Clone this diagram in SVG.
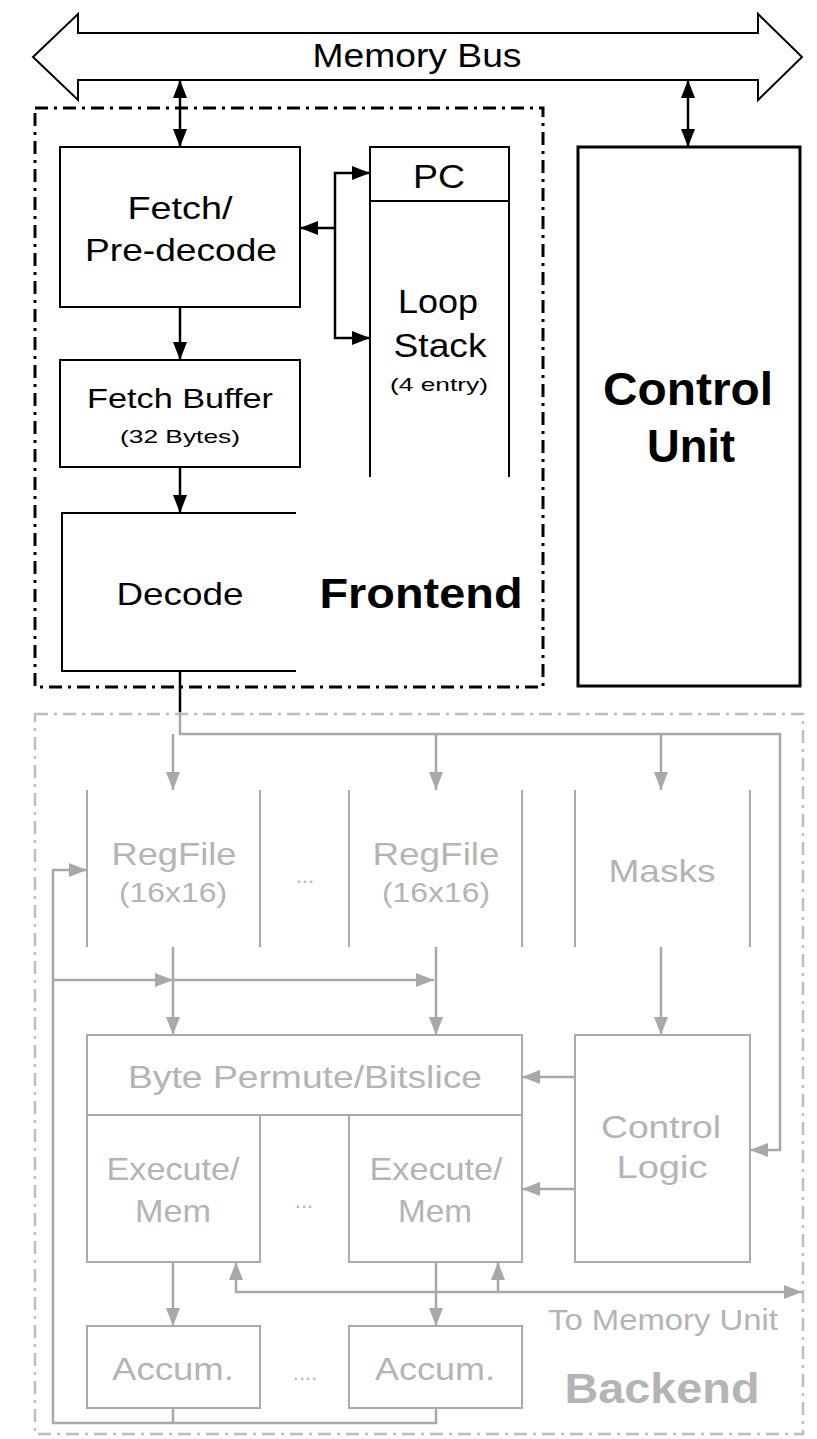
<svg xmlns="http://www.w3.org/2000/svg" width="817" height="1439" viewBox="0 0 817 1439">
<style>
.t{font-family:"Liberation Sans",Arial,sans-serif;text-anchor:middle}
.k{fill:#000}
.g{fill:#b4b4b4}
.box{fill:none;stroke:#000;stroke-width:2}
.gbox{fill:none;stroke:#ababab;stroke-width:2}
.bl{fill:none;stroke:#000;stroke-width:2.5}
.gl{fill:none;stroke:#a8a8a8;stroke-width:2.5}
</style>
<defs>
<marker id="ab" markerUnits="userSpaceOnUse" markerWidth="18" markerHeight="14" refX="18" refY="7" orient="auto-start-reverse"><path d="M0,0 L18,7 L0,14 z" fill="#000"/></marker>
<marker id="ag" markerUnits="userSpaceOnUse" markerWidth="18" markerHeight="14" refX="18" refY="7" orient="auto-start-reverse"><path d="M0,0 L18,7 L0,14 z" fill="#a8a8a8"/></marker>
</defs>
<rect width="817" height="1439" fill="#fff"/>

<g id="memory-bus">
<polygon points="33,57 78,14 78,33 758,33 758,14 802,57 758,100 758,80 78,80 78,100" fill="#fff" stroke="#000" stroke-width="2"/>
<text class="t k" x="417" y="67" font-size="33" textLength="209" lengthAdjust="spacingAndGlyphs">Memory Bus</text>
</g>

<g id="frontend">
<rect x="35" y="108" width="508" height="579" fill="none" stroke="#000" stroke-width="3" stroke-dasharray="13,6,3,6"/>
<text class="t k" x="421" y="608" font-size="42" font-weight="bold" textLength="203" lengthAdjust="spacingAndGlyphs">Frontend</text>
</g>

<g id="backend">
<rect x="35" y="714" width="768" height="720" fill="none" stroke="#bdbdbd" stroke-width="2.5" stroke-dasharray="13,6,3,6"/>
<text class="t g" x="662" y="1403" font-size="42" font-weight="bold" textLength="195" lengthAdjust="spacingAndGlyphs">Backend</text>
</g>

<g id="fetch">
<rect class="box" x="60" y="147" width="240" height="160"/>
<text class="t k" x="180" y="219" font-size="32" textLength="105" lengthAdjust="spacingAndGlyphs">Fetch/</text>
<text class="t k" x="181" y="261" font-size="32" textLength="192" lengthAdjust="spacingAndGlyphs">Pre-decode</text>
</g>

<g id="fetch-buffer">
<rect class="box" x="60" y="360" width="240" height="107"/>
<text class="t k" x="180" y="408" font-size="28" textLength="186" lengthAdjust="spacingAndGlyphs">Fetch Buffer</text>
<text class="t k" x="180" y="443" font-size="19" textLength="120" lengthAdjust="spacingAndGlyphs">(32 Bytes)</text>
</g>

<g id="decode">
<path class="box" d="M296,513 H62 V671 H296"/>
<text class="t k" x="180" y="605" font-size="32" textLength="127" lengthAdjust="spacingAndGlyphs">Decode</text>
</g>

<g id="pc-loop-stack">
<path class="box" d="M370,477 V147 H509 V477 M370,201 H509"/>
<text class="t k" x="439" y="188" font-size="33" textLength="52" lengthAdjust="spacingAndGlyphs">PC</text>
<text class="t k" x="438" y="313" font-size="33" textLength="80" lengthAdjust="spacingAndGlyphs">Loop</text>
<text class="t k" x="440" y="357" font-size="33" textLength="93" lengthAdjust="spacingAndGlyphs">Stack</text>
<text class="t k" x="439" y="391" font-size="19" textLength="98" lengthAdjust="spacingAndGlyphs">(4 entry)</text>
</g>

<g id="control-unit">
<rect x="578" y="147" width="222" height="539" fill="none" stroke="#000" stroke-width="3"/>
<text class="t k" x="688" y="405" font-size="46" font-weight="bold" textLength="170" lengthAdjust="spacingAndGlyphs">Control</text>
<text class="t k" x="691" y="462" font-size="46" font-weight="bold" textLength="88" lengthAdjust="spacingAndGlyphs">Unit</text>
</g>

<g id="regfile-1">
<path class="gbox" d="M87,790 V947 M260,790 V947"/>
<text class="t g" x="174" y="865" font-size="32" textLength="125" lengthAdjust="spacingAndGlyphs">RegFile</text>
<text class="t g" x="173" y="902" font-size="27" textLength="108" lengthAdjust="spacingAndGlyphs">(16x16)</text>
</g>
<text class="t g" x="305" y="883" font-size="22">...</text>
<g id="regfile-2">
<path class="gbox" d="M349,790 V947 M522,790 V947"/>
<text class="t g" x="436" y="865" font-size="32" textLength="127" lengthAdjust="spacingAndGlyphs">RegFile</text>
<text class="t g" x="436" y="902" font-size="27" textLength="108" lengthAdjust="spacingAndGlyphs">(16x16)</text>
</g>
<g id="masks">
<path class="gbox" d="M575,790 V947 M750,790 V947"/>
<text class="t g" x="662" y="882" font-size="32" textLength="107" lengthAdjust="spacingAndGlyphs">Masks</text>
</g>

<g id="byte-permute">
<rect class="gbox" x="87" y="1035" width="435" height="80"/>
<text class="t g" x="305" y="1088" font-size="32" textLength="354" lengthAdjust="spacingAndGlyphs">Byte Permute/Bitslice</text>
</g>
<g id="execute-1">
<path class="gbox" d="M87,1115 V1262 H260 V1115"/>
<text class="t g" x="173" y="1180" font-size="32" textLength="133" lengthAdjust="spacingAndGlyphs">Execute/</text>
<text class="t g" x="173" y="1222" font-size="32" textLength="76" lengthAdjust="spacingAndGlyphs">Mem</text>
</g>
<text class="t g" x="304" y="1208" font-size="22">...</text>
<g id="execute-2">
<path class="gbox" d="M349,1115 V1262 H522 V1115"/>
<text class="t g" x="436" y="1180" font-size="32" textLength="133" lengthAdjust="spacingAndGlyphs">Execute/</text>
<text class="t g" x="435" y="1222" font-size="32" textLength="74" lengthAdjust="spacingAndGlyphs">Mem</text>
</g>

<g id="control-logic">
<rect class="gbox" x="575" y="1035" width="175" height="227"/>
<text class="t g" x="661" y="1138" font-size="32" textLength="120" lengthAdjust="spacingAndGlyphs">Control</text>
<text class="t g" x="662" y="1178" font-size="32" textLength="91" lengthAdjust="spacingAndGlyphs">Logic</text>
</g>

<g id="accum-1">
<rect class="gbox" x="87" y="1326" width="173" height="82"/>
<text class="t g" x="173" y="1380" font-size="32" textLength="122" lengthAdjust="spacingAndGlyphs">Accum.</text>
</g>
<text class="t g" x="305" y="1380" font-size="22">....</text>
<g id="accum-2">
<rect class="gbox" x="349" y="1326" width="173" height="82"/>
<text class="t g" x="435" y="1380" font-size="32" textLength="120" lengthAdjust="spacingAndGlyphs">Accum.</text>
</g>
<text class="t g" x="663" y="1330" font-size="30" textLength="230" lengthAdjust="spacingAndGlyphs">To Memory Unit</text>

<g id="connectors">
<line class="bl" x1="180" y1="80" x2="180" y2="147" marker-start="url(#ab)" marker-end="url(#ab)"/>
<line class="bl" x1="688" y1="80" x2="688" y2="147" marker-start="url(#ab)" marker-end="url(#ab)"/>
<line class="bl" x1="180" y1="307" x2="180" y2="360" marker-end="url(#ab)"/>
<line class="bl" x1="180" y1="467" x2="180" y2="513" marker-end="url(#ab)"/>
<path class="bl" d="M370,173 H335 V338 H370" marker-start="url(#ab)" marker-end="url(#ab)"/>
<line class="bl" x1="335" y1="228" x2="300" y2="228" marker-end="url(#ab)"/>
<line class="bl" x1="180" y1="671" x2="180" y2="712"/>
<path class="gl" d="M180,712 V734 H780 V1150 H750" marker-end="url(#ag)"/>
<line class="gl" x1="173" y1="734" x2="173" y2="790" marker-end="url(#ag)"/>
<line class="gl" x1="436" y1="734" x2="436" y2="790" marker-end="url(#ag)"/>
<line class="gl" x1="661" y1="734" x2="661" y2="790" marker-end="url(#ag)"/>
<line class="gl" x1="173" y1="947" x2="173" y2="1035" marker-end="url(#ag)"/>
<line class="gl" x1="436" y1="947" x2="436" y2="1035" marker-end="url(#ag)"/>
<line class="gl" x1="661" y1="947" x2="661" y2="1035" marker-end="url(#ag)"/>
<line class="gl" x1="53" y1="980" x2="173" y2="980" marker-end="url(#ag)"/>
<line class="gl" x1="173" y1="980" x2="434" y2="980" marker-end="url(#ag)"/>
<line class="gl" x1="575" y1="1077" x2="522" y2="1077" marker-end="url(#ag)"/>
<line class="gl" x1="575" y1="1189" x2="522" y2="1189" marker-end="url(#ag)"/>
<line class="gl" x1="173" y1="1262" x2="173" y2="1326" marker-end="url(#ag)"/>
<line class="gl" x1="436" y1="1262" x2="436" y2="1326" marker-end="url(#ag)"/>
<path class="gl" d="M236,1262 V1292 H802" marker-start="url(#ag)" marker-end="url(#ag)"/>
<line class="gl" x1="498" y1="1292" x2="498" y2="1262" marker-end="url(#ag)"/>
<path class="gl" d="M173,1408 V1423 M436,1408 V1423 H53 V870 H87" marker-end="url(#ag)"/>
</g>
</svg>
